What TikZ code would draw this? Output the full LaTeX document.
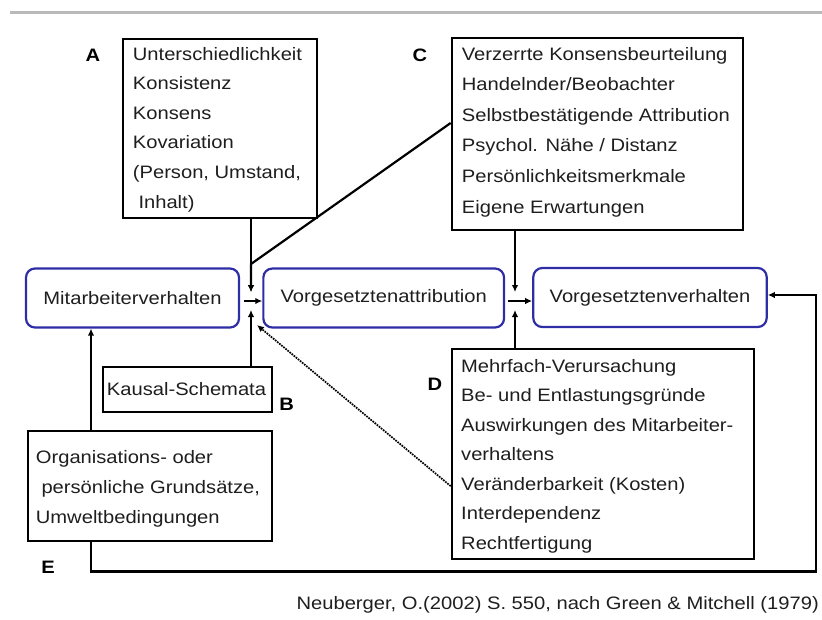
\documentclass[tikz,border=0pt]{standalone}
\usepackage{fontspec}
\setmainfont[FakeStretch=1.12]{Liberation Sans}
\usetikzlibrary{arrows.meta}
\definecolor{boxblue}{RGB}{45,45,165}
\definecolor{topgray}{RGB}{185,185,185}
\definecolor{txtgray}{RGB}{30,30,30}
\begin{document}
\begin{tikzpicture}[x=1pt,y=-1pt,
  every node/.style={font=\fontsize{18}{22}\selectfont, inner sep=0pt, text=txtgray},
  txtline/.style={anchor=base west},
  tbox/.style={draw=black, line width=2.2pt, rectangle, anchor=north west},
  rbox/.style={draw=boxblue, line width=2.2pt, rounded corners=9pt, minimum height=59pt},
  lab/.style={font=\fontsize{18}{22}\selectfont\bfseries, anchor=base, text=black},
  con/.style={line width=2.2pt, -{Latex[length=7pt,width=6.5pt]}},
  dotcon/.style={line width=1.7pt, densely dotted, -{Latex[length=7pt,width=6.5pt]}}
]
\useasboundingbox (0,0) rectangle (822,619);
\draw[topgray, line width=3pt] (10,12.5) -- (822,12.5);

% rounded boxes
\node[rbox, minimum width=213pt] (mv) at (132.5,298) {Mitarbeiterverhalten};
\node[rbox, minimum width=240.7pt] (va) at (383.7,298) {Vorgesetztenattribution};
\node[rbox, minimum width=233.4pt] (vv) at (650,297.5) {Vorgesetztenverhalten};

% rectangular boxes
\node[tbox, minimum width=194pt, minimum height=179pt] (A) at (122,37.7) {};
\node[tbox, minimum width=291pt, minimum height=192.3pt] (C) at (450.7,36.7) {};
\node[tbox, minimum width=302pt, minimum height=210pt] (D) at (450.7,347.7) {};
\node[tbox, minimum width=244.3pt, minimum height=110pt] (E) at (26.7,430) {};
\node[tbox, minimum width=169pt, minimum height=45pt] (K) at (102,366) {};

% texts in boxes
\foreach \t [count=\i from 0] in {Unterschiedlichkeit,Konsistenz,Konsens,Kovariation,{(Person, Umstand,},{\ Inhalt)}}
  \node[txtline] (At\i) at (132.7,60+29.6*\i) {\t};
\foreach \t [count=\i from 0] in {Verzerrte Konsensbeurteilung,Handelnder/Beobachter,Selbstbestätigende Attribution,Psychol. Nähe / Distanz,Persönlichkeitsmerkmale,Eigene Erwartungen}
  \node[txtline] (Ct\i) at (461.7,60+30.6*\i) {\t};
\foreach \t [count=\i from 0] in {Mehrfach-Verursachung,Be- und Entlastungsgründe,Auswirkungen des Mitarbeiter-,verhaltens,Veränderbarkeit (Kosten),Interdependenz,Rechtfertigung}
  \node[txtline] (Dt\i) at (461,372+29.5*\i) {\t};
\foreach \t [count=\i from 0] in {Organisations- oder,{\ persönliche Grundsätze,},Umweltbedingungen}
  \node[txtline] (Et\i) at (35.7,463+30*\i) {\t};
\node[anchor=base] (Kt) at (186.5,395) {Kausal-Schemata};

% letters
\node[lab] (LA) at (93,61.7) {A};
\node[lab] (LB) at (286.7,410) {B};
\node[lab] (LC) at (420,61.7) {C};
\node[lab] (LD) at (435,390) {D};
\node[lab] (LE) at (48,573) {E};

% junction coordinates
\coordinate (j1t) at (251,292);
\coordinate (j1b) at (251,310);
\coordinate (j1l) at (244,301);
\coordinate (cm) at (251,264);
\coordinate (j2t) at (515,292);
\coordinate (j2b) at (515,310);
\coordinate (j2l) at (508,301);
\coordinate (ex) at (91,0);
\coordinate (fb1) at (91,571.5);
\coordinate (fb2) at (816,571.5);
\coordinate (fb3) at (816,295);
\coordinate (dtip) at (257,325);

% connectors
\draw[con] (A.south -| j1t) -- (j1t);
\draw[con] ([yshift=11pt]C.west) -- (cm) -- (j1t);
\draw[con] (K.north -| j1b) -- (j1b);
\draw[con] (j1l) -- (va.west |- j1l);
\draw[dotcon] ([yshift=-32.3pt]D.west) -- (dtip);

\draw[con] (C.south -| j2t) -- (j2t);
\draw[con] (D.north -| j2b) -- (j2b);
\draw[con] (j2l) -- (vv.west |- j2l);

\draw[con] (E.north -| ex) -- (mv.south -| ex);
\draw[con] (E.south -| ex) -- (fb1) -- (fb2) -- (fb3) -- (vv.east |- fb3);

% citation
\node[anchor=base east] (cit) at (819,609) {Neuberger, O.(2002) S. 550, nach Green \& Mitchell (1979)};
\end{tikzpicture}
\end{document}
